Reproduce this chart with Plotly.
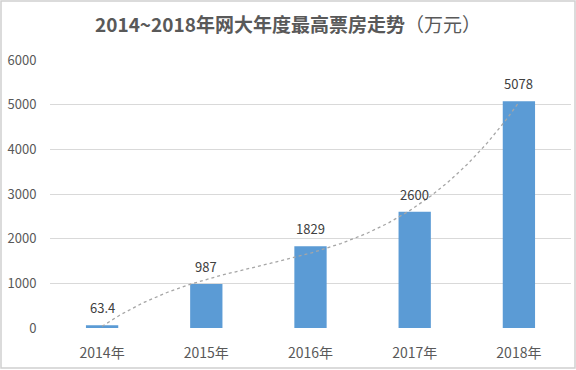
import numpy as np
import plotly.graph_objects as go

years = [2014, 2015, 2016, 2017, 2018]
year_labels = ["2014年", "2015年", "2016年", "2017年", "2018年"]
box_office = [63.4, 987, 1829, 2600, 5078]
value_labels = ["63.4", "987", "1829", "2600", "5078"]
y_ticks = [0, 1000, 2000, 3000, 4000, 5000, 6000]

# Excel-style polynomial trendline derived from the data
coef = np.polyfit(years, box_office, 3)
tx = np.linspace(years[0], years[-1], 200)
ty = np.polyval(coef, tx)

font_family = "Noto Sans CJK SC, Noto Sans, sans-serif"

fig = go.Figure()
fig.add_trace(go.Bar(
    x=years, y=box_office, width=0.31,
    marker=dict(color="#5b9bd5", line=dict(width=0)),
    showlegend=False,
))
fig.add_trace(go.Scatter(
    x=tx, y=ty, mode="lines",
    line=dict(color="#a6a6a6", width=1.3, dash="dot"),
    showlegend=False, hoverinfo="skip",
))

for xv, yv, lab in zip(years, box_office, value_labels):
    fig.add_annotation(x=xv, y=yv, text=lab, showarrow=False,
                       yanchor="bottom", yshift=6,
                       font=dict(size=13, color="#404040", family=font_family))

fig.update_layout(
    width=576, height=370,
    margin=dict(l=50, r=5, t=60, b=42),
    paper_bgcolor="white", plot_bgcolor="white",
    font=dict(family=font_family, color="#595959", size=13),
    title=dict(text="<b>2014~2018年网大年度最高票房走势</b>（万元）",
               x=0.5, xanchor="center", y=1 - 25/370, yanchor="middle",
               font=dict(size=19, color="#595959", family=font_family)),
    xaxis=dict(range=[2013.5, 2018.5], tickvals=years, ticktext=year_labels,
               showgrid=False, zeroline=False, showline=False,
               ticks="outside", ticklen=12, tickcolor="rgba(0,0,0,0)",
               tickfont=dict(size=14, color="#595959")),
    yaxis=dict(range=[0, 6000], tickvals=y_ticks, showgrid=True,
               gridcolor="#d9d9d9", gridwidth=1, zeroline=False, showline=False,
               ticks="outside", ticklen=10, tickcolor="rgba(0,0,0,0)",
               tickfont=dict(size=13, color="#595959")),
    shapes=[dict(type="rect", xref="paper", yref="paper",
                 x0=-49/521, x1=1 + 4/521, y0=-40/268, y1=1 + 59/268,
                 line=dict(color="#d0d0d0", width=1.5), layer="below")],
    bargap=0.69,
)

fig.write_html("out.html",
               config={"displayModeBar": False},
               post_script="document.body.style.margin='0';document.body.style.overflow='hidden';")
